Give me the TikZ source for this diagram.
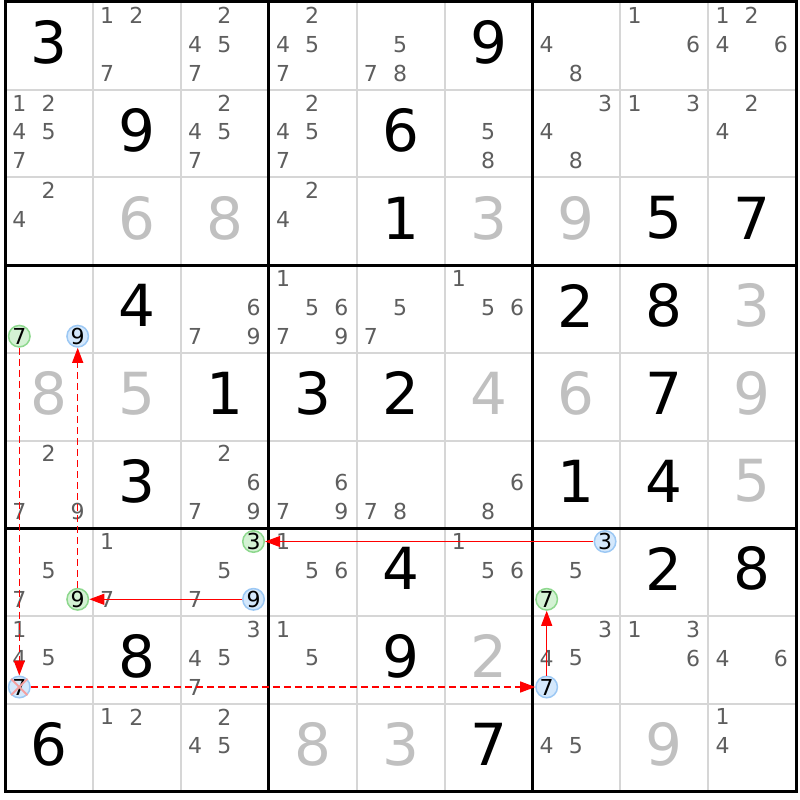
\documentclass[tikz,border=0pt]{standalone}
\usepackage{fontspec}
\setmainfont{DejaVu Sans}
\newfontfamily\candfont[Color=5E5E5E]{DejaVu Sans}
\newfontfamily\solvedfont[Color=C0C0C0]{DejaVu Sans}
\usetikzlibrary{arrows.meta}
\pgfdeclarelayer{bg}
\pgfsetlayers{bg,main}
\definecolor{thinc}{HTML}{D6D6D6}
\definecolor{gfill}{HTML}{D4F2D4}
\definecolor{gline}{HTML}{8ED88E}
\definecolor{bfill}{HTML}{D4E8FC}
\definecolor{bline}{HTML}{9CC8F4}
\definecolor{xcol}{HTML}{F4A0A0}
\definecolor{linkc}{HTML}{FF0000}
\begin{document}
\begin{tikzpicture}[x=1pt,y=-1pt,
  cellc/.style n args={2}{at={({5+(#2-1)*87.9+43.95},{2+(#1-1)*87.7+40.5})}},
  cp/.style n args={3}{at={({5+(#2-1)*87.9+14.3+mod(#3-1,3)*29.2},{2+(#1-1)*87.7+13.3+int((#3-1)/3)*28.9})}},
  given/.style={inner sep=0pt,font=\fontsize{58}{60}\selectfont},
  solved/.style={inner sep=0pt,font=\solvedfont\fontsize{58}{60}\selectfont},
  cand/.style={inner sep=0pt,font=\candfont\fontsize{22}{24}\selectfont},
  circ/.style={circle,inner sep=0pt,outer sep=0.75pt,minimum size=21.5pt,font=\fontsize{22}{24}\selectfont},
  diskg/.style={draw=gline,fill=gfill,line width=1.5pt},
  diskb/.style={draw=bline,fill=bfill,line width=1.5pt},
  thinline/.style={draw=thinc,line width=2pt},
  thickline/.style={draw=black,line width=3pt},
  link/.style={draw=linkc,line width=1.1pt,-{Triangle[length=15pt,width=11pt,fill=linkc]}},
  strong/.style={link},
  weak/.style={link,line width=1.3pt,dash pattern=on 7pt off 4pt},
  cross/.style={draw=xcol,line width=2pt}
]
\begin{pgfonlayer}{bg}
\fill[white] (0,0) rectangle (800,800);
\end{pgfonlayer}
\useasboundingbox (0,0) rectangle (800,800);
% thin grid lines
\foreach \i in {1,2,4,5,7,8} {
  \draw[thinline] ({5+\i*87.9},2) -- ({5+\i*87.9},791);
  \draw[thinline] (5,{2+\i*87.7}) -- (796,{2+\i*87.7});
}
% thick lines
\foreach \i in {3,6} {
  \draw[thickline] ({5+\i*87.9},2) -- ({5+\i*87.9},791);
  \draw[thickline] (5,{2+\i*87.7}) -- (796,{2+\i*87.7});
}
\draw[thickline] (5,2) rectangle (796,791);
% given digits
\foreach \r/\c/\d in {1/1/3,1/6/9,2/2/9,2/5/6,3/5/1,3/8/5,3/9/7,4/2/4,4/7/2,4/8/8,
  5/3/1,5/4/3,5/5/2,5/8/7,6/2/3,6/7/1,6/8/4,7/5/4,7/8/2,7/9/8,8/2/8,8/5/9,9/1/6,9/6/7}
  \node[given,cellc={\r}{\c}] (g\r\c) {\d};
% solved digits
\foreach \r/\c/\d in {3/2/6,3/3/8,3/6/3,3/7/9,4/9/3,5/1/8,5/2/5,5/6/4,5/7/6,5/9/9,
  6/9/5,8/6/2,9/4/8,9/5/3,9/8/9}
  \node[solved,cellc={\r}{\c}] (s\r\c) {\d};
% candidates
\foreach \r/\c/\l in {1/2/{1,2,7},1/3/{2,4,5,7},1/4/{2,4,5,7},1/5/{5,7,8},1/7/{4,8},1/8/{1,6},1/9/{1,2,4,6},
  2/1/{1,2,4,5,7},2/3/{2,4,5,7},2/4/{2,4,5,7},2/6/{5,8},2/7/{3,4,8},2/8/{1,3},2/9/{2,4},
  3/1/{2,4},3/4/{2,4},
  4/3/{6,7,9},4/4/{1,5,6,7,9},4/5/{5,7},4/6/{1,5,6},
  6/1/{2,7,9},6/3/{2,6,7,9},6/4/{6,7,9},6/5/{7,8},6/6/{6,8},
  7/1/{5,7},7/2/{1,7},7/3/{5,7},7/4/{1,5,6},7/6/{1,5,6},7/7/{5},
  8/1/{1,4,5},8/3/{3,4,5,7},8/4/{1,5},8/7/{3,4,5},8/8/{1,3,6},8/9/{4,6},
  9/2/{1,2},9/3/{2,4,5},9/7/{4,5},9/9/{1,4}} {
  \foreach \k in \l {
    \node[cand,cp={\r}{\c}{\k}] (k\r\c\k) {\k};
  }
}
% circled candidates (text nodes; discs drawn on the background layer)
\node[circ,cp={4}{1}{7}] (A) {7};
\node[circ,cp={4}{1}{9}] (B) {9};
\node[circ,cp={7}{1}{9}] (C) {9};
\node[circ,cp={7}{3}{3}] (D) {3};
\node[circ,cp={7}{3}{9}] (E) {9};
\node[circ,cp={7}{7}{3}] (F) {3};
\node[circ,cp={7}{7}{7}] (G) {7};
\node[circ,cp={8}{1}{7}] (H) {7};
\node[circ,cp={8}{7}{7}] (I) {7};
\begin{pgfonlayer}{bg}
\foreach \n in {A,C,D,G} \filldraw[diskg] (\n.center) circle[radius=10.75pt];
\foreach \n in {B,E,F,H,I} \filldraw[diskb] (\n.center) circle[radius=10.75pt];
\end{pgfonlayer}
% links
\draw[weak] (A) -- (H);
\draw[weak] (C) -- (B);
\draw[strong] (E) -- (C);
\draw[strong] (F) -- (D);
\draw[weak] (H) -- (I);
\draw[strong] (I) -- (G);
% elimination cross
\draw[cross] (H.north west) -- (H.south east);
\draw[cross] (H.north east) -- (H.south west);
\end{tikzpicture}
\end{document}
